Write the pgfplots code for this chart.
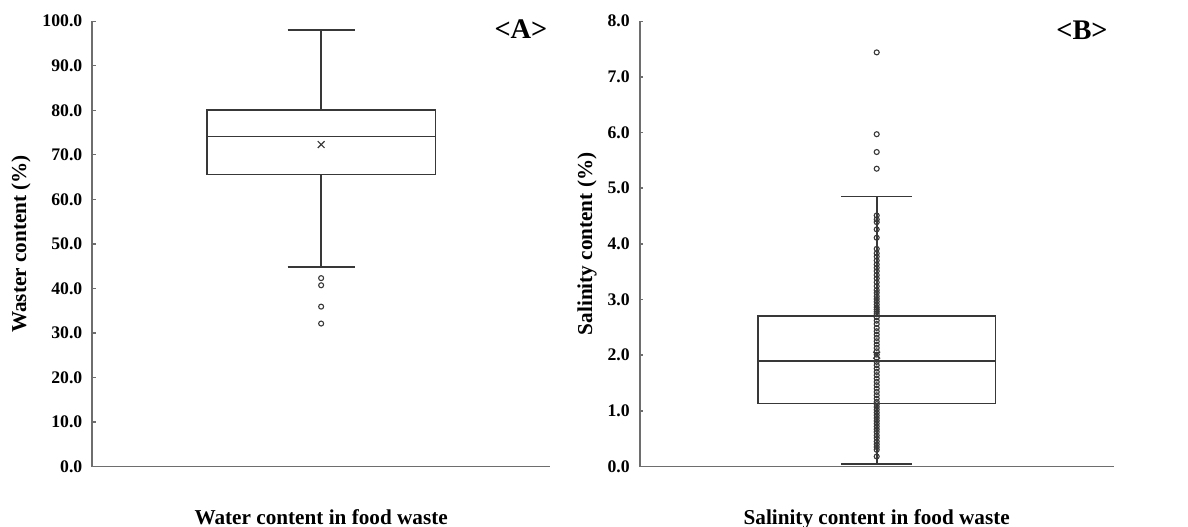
\documentclass[border=0pt]{standalone}
\usepackage{pgfplots}
\pgfplotsset{compat=1.18}
\usepgfplotslibrary{statistics}
\usepackage{fontspec}
\setmainfont{Liberation Serif}
\definecolor{axisgray}{HTML}{6E6E6E}
\definecolor{boxgray}{HTML}{383838}
\pgfplotsset{
  panel/.style={
    scale only axis, height=222.65pt, ymin=0,
    xmin=0, xmax=2, xtick=\empty,
    axis x line=bottom, axis y line=left,
    axis line style={-, axisgray, line width=0.9pt},
    tick align=inside, major tick length=1.75pt,
    ytick style={axisgray, line width=0.7pt},
    yticklabel style={font=\bfseries\fontsize{8.85}{9}\selectfont, anchor=east, inner sep=0pt, xshift=-4.8pt},
    /pgf/number format/assume math mode=true,
    /pgf/number format/fixed, /pgf/number format/fixed zerofill, /pgf/number format/precision=1,
    label style={font=\bfseries\fontsize{10.6}{12}\selectfont},
    xlabel style={at={(axis description cs:0.5,0)}, anchor=base, yshift=-28.75pt},
    clip=false,
    boxplot/draw direction=y,
  },
  boxst/.style={boxgray, line width=0.8pt, solid, fill=none},
  outl/.style={only marks, mark=o, mark size=1.25pt, boxgray, mark options={line width=0.55pt}},
  meanm/.style={only marks, mark=x, mark size=2.4pt, boxgray, mark options={line width=0.6pt}},
}
\begin{document}
\begin{tikzpicture}
\path[use as bounding box] (0,0) rectangle (594pt,263pt);
% Panel A
\begin{axis}[panel, width=228.85pt, at={(46.15pt,29.75pt)}, anchor=south west,
  ymax=100, ytick={0,10,...,100},
  ylabel={Waster content (\%)},
  ylabel style={at={(axis description cs:-0.1558,0.5)}, anchor=center},
  xlabel={Water content in food waste}]
\addplot[boxst, boxplot prepared={draw direction=y, draw position=1, lower whisker=44.8, lower quartile=65.6,
  median=74.1, upper quartile=80.0, upper whisker=98.0, box extend=1, whisker extend=0.293}] coordinates {};
\addplot[outl] coordinates {(1,42.3) (1,40.7) (1,35.9) (1,32.1)};
\addplot[meanm] coordinates {(1,72.3)};
\node[font=\bfseries\fontsize{14.2}{15}\selectfont] at (axis description cs:0.9366,0.9825) {<A>};
\end{axis}
% Panel B
\begin{axis}[panel, width=237pt, at={(319.85pt,29.75pt)}, anchor=south west,
  ymax=8, ytick={0,1,...,8},
  ylabel={Salinity content (\%)},
  ylabel style={at={(axis description cs:-0.1112,0.5)}, anchor=center},
  xlabel={Salinity content in food waste}]
\addplot[boxst, boxplot prepared={draw direction=y, draw position=1, lower whisker=0.05, lower quartile=1.13,
  median=1.90, upper quartile=2.70, upper whisker=4.85, box extend=1.004, whisker extend=0.30}] coordinates {};
\addplot[outl] coordinates {
 (1,4.51) (1,4.44) (1,4.39) (1,4.26) (1,4.11) (1,3.91) (1,3.83) (1,3.77) (1,3.70) (1,3.63)
 (1,3.57) (1,3.51) (1,3.44) (1,3.38) (1,3.31) (1,3.24) (1,3.17) (1,3.12) (1,3.06) (1,3.01)
 (1,2.96) (1,2.91) (1,2.86) (1,2.82) (1,2.78) (1,2.74)
 (1,2.68) (1,2.62) (1,2.56) (1,2.49) (1,2.43) (1,2.37) (1,2.31) (1,2.25) (1,2.19) (1,2.13)
 (1,2.07) (1,2.01) (1,1.95) (1,1.88) (1,1.82) (1,1.76) (1,1.70) (1,1.64) (1,1.58) (1,1.52)
 (1,1.46) (1,1.40) (1,1.34) (1,1.28) (1,1.22) (1,1.16) (1,1.12)
 (1,1.07) (1,1.02) (1,0.97) (1,0.92) (1,0.87) (1,0.82) (1,0.77) (1,0.72) (1,0.67) (1,0.62)
 (1,0.56) (1,0.51) (1,0.45) (1,0.40) (1,0.35) (1,0.30) (1,0.18)};
\addplot[outl] coordinates {(1,7.44) (1,5.97) (1,5.65) (1,5.35)};
\addplot[meanm] coordinates {(1,2.0)};
\node[font=\bfseries\fontsize{14.2}{15}\selectfont] at (axis description cs:0.9331,0.979) {<B>};
\end{axis}
\end{tikzpicture}
\end{document}
